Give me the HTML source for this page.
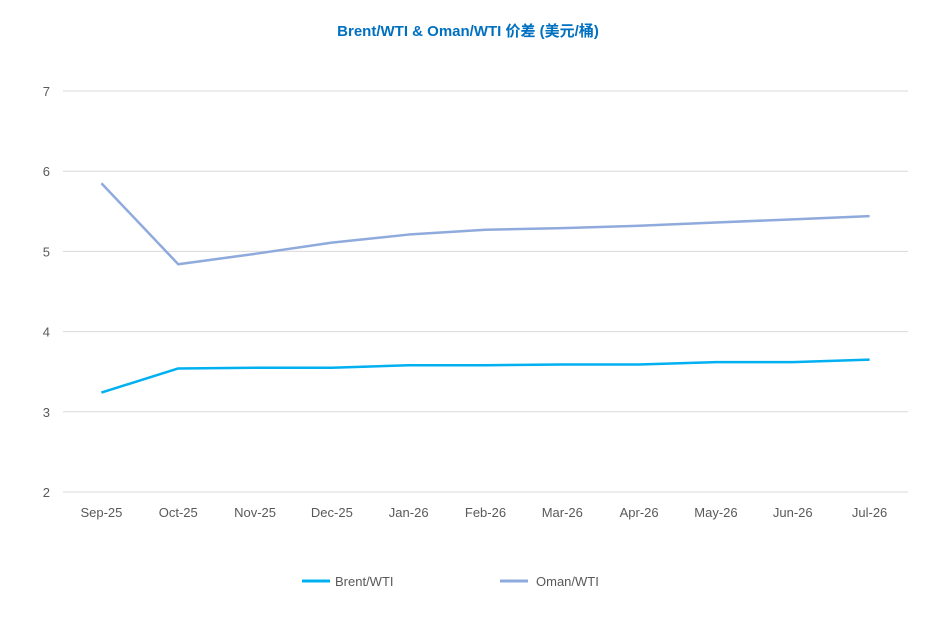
<!DOCTYPE html>
<html><head><meta charset="utf-8"><style>
body{margin:0;background:#fff;}
svg{display:block;font-family:"Liberation Sans","Noto Sans CJK SC",sans-serif;}
</style></head><body>
<svg id="chart" width="937" height="634">
<text x="468" y="36" text-anchor="middle" font-size="15" font-weight="bold" fill="#0070c0">Brent/WTI &amp; Oman/WTI 价差 (美元/桶)</text>
<g id="grid"></g><g id="xl"></g><g id="series"></g>
<g>
<g><line x1="302" y1="581" x2="330" y2="581" stroke="#00b0f0" stroke-width="3"/><text x="335" y="586" font-size="13" fill="#595959">Brent/WTI</text></g>
<g><line x1="500" y1="581" x2="528" y2="581" stroke="#8faadc" stroke-width="3"/><text x="536" y="586" font-size="13" fill="#595959">Oman/WTI</text></g>
</g>
</svg>
<script>
const categories=["Sep-25","Oct-25","Nov-25","Dec-25","Jan-26","Feb-26","Mar-26","Apr-26","May-26","Jun-26","Jul-26"];
const brent=[3.24,3.54,3.55,3.55,3.58,3.58,3.59,3.59,3.62,3.62,3.65];
const oman=[5.85,4.84,4.97,5.11,5.21,5.27,5.29,5.32,5.36,5.40,5.44];
const yTicks=[2,3,4,5,6,7];
const NS="http://www.w3.org/2000/svg";
const L=63,R=908,T=91,B=492,ymin=2,ymax=7;
const bw=(R-L)/categories.length;
const x=i=>L+bw*(i+0.5);
const y=v=>B-(v-ymin)/(ymax-ymin)*(B-T);
function mk(tag,attrs,parent){const e=document.createElementNS(NS,tag);for(const k in attrs)e.setAttribute(k,attrs[k]);parent.appendChild(e);return e;}
const grid=document.getElementById('grid');
yTicks.forEach(t=>{
 const ln=mk('line',{x1:L,x2:R,y1:y(t),y2:y(t),stroke:'#d9d9d9','stroke-width':1},grid);
 
 
 const tx=mk('text',{x:50,y:y(t)+5,'text-anchor':'end','font-size':13,fill:'#595959'},grid);
 tx.textContent=t;
 
 
});
const xl=document.getElementById('xl');
categories.forEach((c,i)=>{
 const tx=mk('text',{x:x(i),y:517,'text-anchor':'middle','font-size':13,fill:'#595959'},xl);
 tx.textContent=c;
 
 
});
const sg=document.getElementById('series');
function line(vals,color,name){
 const p=mk('polyline',{points:vals.map((v,i)=>x(i)+','+y(v)).join(' '),fill:'none',stroke:color,'stroke-width':2.5,'stroke-linejoin':'round'},sg);
 
 
}
line(oman,'#8faadc','oman-wti-line');
line(brent,'#00b0f0','brent-wti-line');
</script>
</body></html>
